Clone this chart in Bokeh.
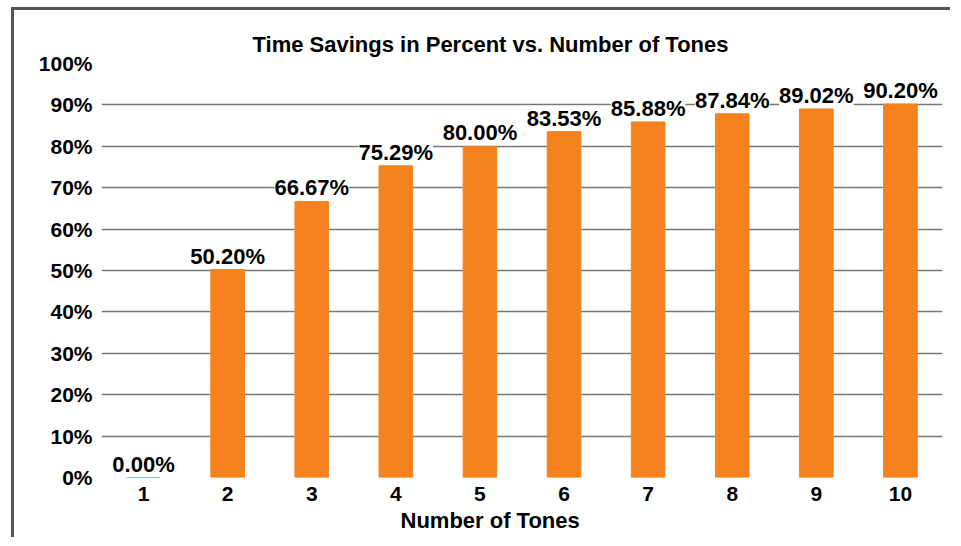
from bokeh.plotting import figure
from bokeh.models import Range1d, FixedTicker, PrintfTickFormatter, LabelSet, ColumnDataSource, Title
from bokeh.core.properties import value
from bokeh.embed import file_html
from bokeh.resources import INLINE

tones = [1, 2, 3, 4, 5, 6, 7, 8, 9, 10]
savings = [0.00, 50.20, 66.67, 75.29, 80.00, 83.53, 85.88, 87.84, 89.02, 90.20]
labels = ["%.2f%%" % v for v in savings]
y_ticks = [0, 10, 20, 30, 40, 50, 60, 70, 80, 90, 100]

FONT = "Liberation Sans"
ORANGE = "#F5821F"
GRID = "#777777"

p = figure(width=939, height=530, output_backend="svg", toolbar_location=None,
           x_range=Range1d(0.5, 10.5), y_range=Range1d(0, 100),
           title="Time Savings in Percent vs. Number of Tones",
           min_border_left=87, min_border_right=11, min_border_top=53, min_border_bottom=63)
p.styles = {"border-left": "3px solid #555555", "border-top": "3px solid #555555",
            "position": "relative", "left": "11px", "top": "7px"}
p.outline_line_color = None
p.background_fill_color = "white"
p.border_fill_color = "white"

p.title.align = "left"
p.title.offset = 151
p.title.text_font = FONT
p.title.text_font_style = "bold"
p.title.text_font_size = "22px"
p.title.text_color = "black"
p.title.standoff = 14

src = ColumnDataSource(dict(x=tones, y=savings, label=labels))
p.vbar(x="x", top="y", width=0.4, bottom=0, color=ORANGE, source=src)

p.xgrid.grid_line_color = None
p.ygrid.ticker = FixedTicker(ticks=y_ticks)
p.ygrid.grid_line_color = GRID
p.ygrid.grid_line_width = 1.6

p.yaxis.ticker = FixedTicker(ticks=y_ticks)
p.yaxis.formatter = PrintfTickFormatter(format="%d%%")
p.xaxis.ticker = FixedTicker(ticks=tones)
for ax in (p.xaxis[0], p.yaxis[0]):
    ax.axis_line_color = None
    ax.major_tick_line_color = None
    ax.minor_tick_line_color = None
    ax.major_label_text_font = FONT
    ax.major_label_text_font_style = "bold"
    ax.major_label_text_font_size = "21px"
    ax.major_label_text_color = "black"
p.yaxis.major_label_standoff = 3
p.xaxis.major_label_standoff = 3

xlabel = Title(text="Number of Tones", align="left", offset=299, text_font=FONT,
               text_font_style="bold", text_font_size="22px", text_color="black",
               standoff=4)
p.add_layout(xlabel, "below")

ls = LabelSet(x="x", y="y", text="label", source=src, text_align="center",
              text_baseline="alphabetic", y_offset=6, text_font=value(FONT),
              text_font_style="bold", text_font_size="22px", text_color="black",
              background_fill_color="white")
p.add_layout(ls)

open("out.html", "w").write(file_html(p, INLINE))
